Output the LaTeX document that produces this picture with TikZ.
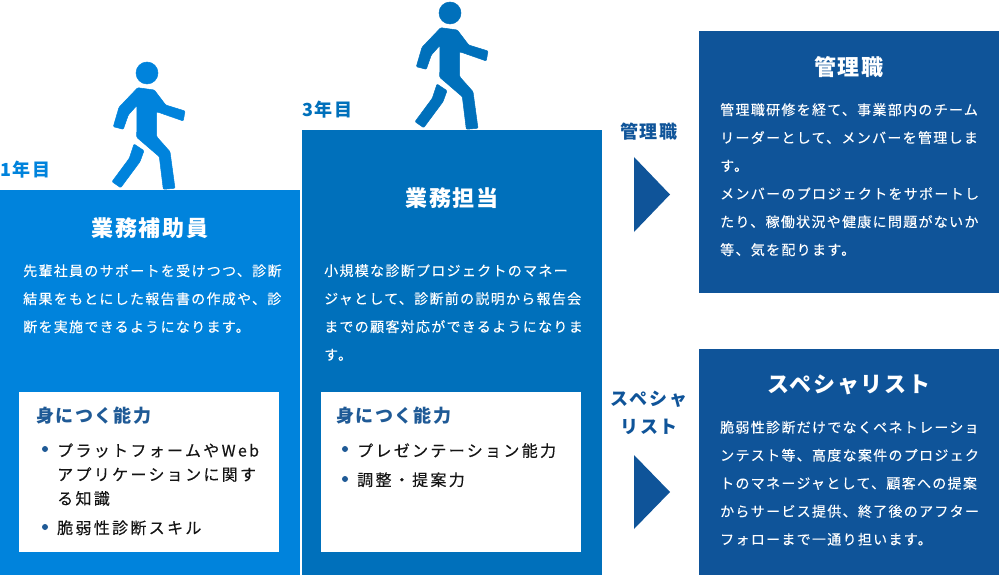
\documentclass[tikz,border=0pt]{standalone}
\usepackage{fontspec}
\setmainfont{Noto Sans CJK JP}
\usetikzlibrary{positioning}
\definecolor{StepOne}{RGB}{0,131,220}
\definecolor{StepTwo}{RGB}{0,112,187}
\definecolor{StepTop}{RGB}{15,84,153}
\definecolor{SkillHead}{RGB}{31,90,150}
\definecolor{SkillText}{RGB}{20,20,20}
\tikzset{
  stage/.style={anchor=north west,inner sep=0pt,minimum width=300pt},
  skillbox/.style={anchor=north west,fill=white,inner sep=0pt,minimum width=260pt,minimum height=160pt},
  stagehead/.style={text=white,inner sep=0pt,font=\fontsize{22}{26}\selectfont\bfseries\addfontfeatures{LetterSpace=8}},
  stagetext/.style={anchor=north west,text=white,inner sep=0pt,align=left,font=\fontsize{14}{28}\selectfont\addfontfeatures{LetterSpace=9.3,FakeBold=0.15}},
  yearlabel/.style={anchor=west,inner sep=0pt,font=\fontsize{18}{22}\selectfont\bfseries\addfontfeatures{LetterSpace=8}},
  skillhead/.style={anchor=west,inner sep=0pt,text=SkillHead,font=\fontsize{18}{22}\selectfont\bfseries\addfontfeatures{LetterSpace=8}},
  skillitem/.style={anchor=north west,inner sep=0pt,text=SkillText,align=left,font=\fontsize{16}{24}\selectfont\addfontfeatures{LetterSpace=14.5,FakeBold=0.15}},
  dot/.style={circle,fill=SkillHead,inner sep=0pt,minimum size=6pt},
  nextlabel/.style={inner sep=0pt,text=StepTop,align=center,font=\fontsize{18}{28}\selectfont\bfseries\addfontfeatures{LetterSpace=10}},
  nextarrow/.style={fill=StepTop},
  walker/.pic={
    \filldraw (147,73) circle (11);
    \filldraw[rounded corners=1pt] (137.7,87.7) -- (154.3,90) -- (165.7,105) -- (185,111) -- (183.3,121)
      -- (156.7,111.7) -- (156.7,136.7) -- (170,151.7) -- (175,188.3) -- (163.3,189.3) -- (159.3,156.7)
      -- (136.7,137.3) -- (137,105.3) -- (128.3,115) -- (123.3,129.3) -- (113.3,126.7) -- (119,107.3) -- cycle;
    \filldraw[rounded corners=1pt] (134,144) -- (144,150.7) -- (140,161.7) -- (120.7,187.7) -- (112,181.7)
      -- (129.3,158.3) -- cycle;
  }
}
\begin{document}
\begin{tikzpicture}[x=1pt,y=-1pt]
  \useasboundingbox (0,0) rectangle (999,575);
  % stages
  \node[stage,fill=StepOne,minimum height=385pt] (first) at (0,190) {};
  \node[stage,fill=StepTwo,minimum height=445pt] (second) at (302,130) {};
  \node[stage,fill=StepTop,minimum height=262pt] (manager) at (699,31) {};
  \node[stage,fill=StepTop,minimum height=226pt] (expert) at (699,349) {};
  \pic[fill=StepOne,draw=StepOne,line width=0.5pt] at (0,0) {walker};
  \pic[fill=StepTwo,draw=StepTwo,line width=0.5pt] at (303,-60) {walker};
  \node[yearlabel,text=StepOne] (year1) at (0,170) {1年目};
  \node[yearlabel,text=StepTwo] (year3) at (302,110) {3年目};
  % first stage
  \node[stagehead] (firsthead) at (150,228) {業務補助員};
  \node[stagetext] (firsttext) at (23,264) {先輩社員のサポートを受けつつ、診断\\結果をもとにした報告書の作成や、診\\断を実施できるようになります。};
  \node[skillbox] (firstskill) at (19,392) {};
  \node[skillhead] (firstskillhead) at (36,416) {身につく能力};
  \node[skillitem] (firstitem1) at (57,443) {プラットフォームやWeb\\アプリケーションに関す\\る知識};
  \node[skillitem,below=14pt of firstitem1.south west,anchor=north west] (firstitem2) {脆弱性診断スキル};
  \node[dot] (firstdot1) at (45,449) {};
  \node[dot] (firstdot2) at (45,527) {};
  % second stage
  \node[stagehead] (secondhead) at (452,198) {業務担当};
  \node[stagetext] (secondtext) at (324,264) {小規模な診断プロジェクトのマネー\\ジャとして、診断前の説明から報告会\\までの顧客対応ができるようになりま\\す。};
  \node[skillbox] (secondskill) at (321,392) {};
  \node[skillhead] (secondskillhead) at (336,416) {身につく能力};
  \node[skillitem] (seconditem1) at (357,443) {プレゼンテーション能力};
  \node[skillitem,below=14pt of seconditem1.south west,anchor=north west] (seconditem2) {調整・提案力};
  \node[dot] (seconddot1) at (345,449) {};
  \node[dot] (seconddot2) at (345,479) {};
  % next steps
  \node[nextlabel] (managerlabel) at (649,132) {管理職};
  \fill[nextarrow] (634,157) -- (670,194.5) -- (634,232) -- cycle;
  \node[nextlabel] (expertlabel) at (649,413) {スペシャ\\リスト};
  \fill[nextarrow] (634,455) -- (670,492) -- (634,529) -- cycle;
  % manager
  \node[stagehead] (managerhead) at (849,67) {管理職};
  \node[stagetext] (managertext) at (720,103) {管理職研修を経て、事業部内のチーム\\リーダーとして、メンバーを管理しま\\す。\\メンバーのプロジェクトをサポートし\\たり、稼働状況や健康に問題がないか\\等、気を配ります。};
  % expert
  \node[stagehead] (experthead) at (849,385) {スペシャリスト};
  \node[stagetext] (experttext) at (720,420.5) {脆弱性診断だけでなくペネトレーショ\\ンテスト等、高度な案件のプロジェク\\トのマネージャとして、顧客への提案\\からサービス提供、終了後のアフター\\フォローまで一通り担います。};
\end{tikzpicture}
\end{document}
